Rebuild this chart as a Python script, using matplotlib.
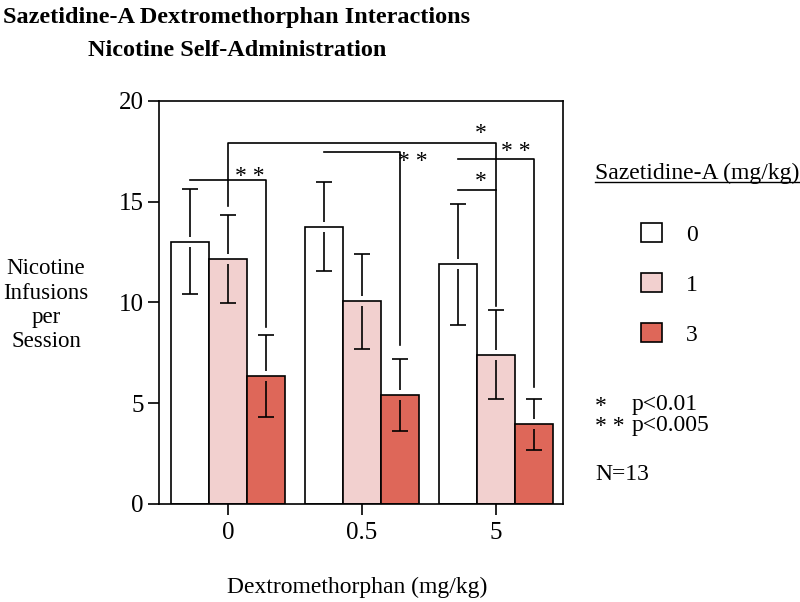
import numpy as np
import matplotlib
matplotlib.use("Agg")
import matplotlib.pyplot as plt
from matplotlib.lines import Line2D

plt.rcParams['font.family'] = ['Liberation Serif', 'DejaVu Serif']

# Dextromethorphan doses on the x axis, Sazetidine-A doses as the bar series
dxm_doses = ['0', '0.5', '5']
saz_doses = ['0', '1', '3']

# mean nicotine infusions per session and SEM, one list per Sazetidine-A dose
means_saz0 = [13.0, 13.75, 11.9]
sem_saz0 = [2.6, 2.2, 3.0]
means_saz1 = [12.15, 10.05, 7.4]
sem_saz1 = [2.2, 2.35, 2.2]
means_saz3 = [6.35, 5.4, 3.95]
sem_saz3 = [2.05, 1.8, 1.25]

# significance brackets : start (group, bar), end (group, bar), height,
# bottom of the left drop, bottom of the right drop (None = no drop)
br_start = [(0, 0), (0, 1), (1, 0), (2, 0), (2, 0)]
br_end = [(0, 2), (2, 1), (1, 2), (2, 1), (2, 2)]
br_height = [16.05, 17.9, 17.45, 15.55, 17.1]
br_left_drop = [None, 14.8, None, None, None]
br_right_drop = [8.8, 9.8, 7.9, None, 5.8]

# star labels (x in group units, y in infusions)
star_text = ['* *', '* *', '*', '*', '* *']
star_x = [0.164, 1.377, 1.888, 1.888, 2.148]
star_y = [16.6, 17.31, 18.72, 16.32, 17.81]

means = [means_saz0, means_saz1, means_saz3]
sems = [sem_saz0, sem_saz1, sem_saz3]
colors = ['white', '#F2D0CF', '#DE6759']

fig = plt.figure(figsize=(8, 6.02), dpi=100)
ax = fig.add_axes([0.19875, 0.1628, 0.5046, 0.6699])

x = np.arange(len(dxm_doses))
w = 0.285
offsets = [-w, 0, w]
gap = 0.25

bars = []
for i in range(3):
    xi = x + offsets[i]
    b = ax.bar(xi, means[i], width=w, color=colors[i], edgecolor='black',
               linewidth=1.2, zorder=2)
    bars.append(b)
    # caps only from errorbar, then the stem in two pieces with a gap at the bar top
    eb = ax.errorbar(xi, means[i], yerr=sems[i], fmt='none', ecolor='black',
                     capsize=5.8, capthick=1.2, elinewidth=1.2, zorder=3)
    eb[2][0].set_visible(False)
    m = np.array(means[i])
    s = np.array(sems[i])
    ax.vlines(xi, m + gap, m + s, color='black', lw=1.2, zorder=3)
    ax.vlines(xi, m - s, m - gap, color='black', lw=1.2, zorder=3)

# brackets
for (g0, b0), (g1, b1), h, ld, rd in zip(br_start, br_end, br_height,
                                          br_left_drop, br_right_drop):
    x0 = x[g0] + offsets[b0]
    x1 = x[g1] + offsets[b1]
    xs = [x0, x1]
    ys = [h, h]
    if ld is not None:
        xs = [x0] + xs
        ys = [ld] + ys
    if rd is not None:
        xs = xs + [x1]
        ys = ys + [rd]
    ax.plot(xs, ys, color='black', lw=1.2, zorder=4, clip_on=False)

for t, sx, sy in zip(star_text, star_x, star_y):
    ax.text(sx, sy - 0.62, t, ha='center', va='baseline', fontsize=17, zorder=5)

ax.set_xlim(-0.515, 2.498)
ax.set_ylim(0, 20)
ax.set_yticks([0, 5, 10, 15, 20])
ax.set_xticks(x)
ax.set_xticklabels(dxm_doses)
for sp in ax.spines.values():
    sp.set_linewidth(1.2)
ax.tick_params(axis='both', direction='out', length=8, width=1.2, labelsize=18)
ax.tick_params(axis='y', pad=3)
ax.tick_params(axis='x', pad=5)

ax.set_ylabel('Nicotine\nInfusions\nper\nSession', rotation=0, fontsize=16.5,
              ha='center', va='center', linespacing=1.2)
ax.yaxis.set_label_coords(-0.28, 0.493)
ax.set_xlabel('Dextromethorphan (mg/kg)', fontsize=17, va='center')
ax.xaxis.set_label_coords(0.49, -0.206)

fig.text(237 / 800, 1 - 34 / 602,
         'Sazetidine-A Dextromethorphan Interactions\nNicotine Self-Administration',
         ha='center', va='center', fontsize=17.5, fontweight='bold', linespacing=1.78)

# legend
ax.legend([b for b in bars], saz_doses, loc='upper left',
          bbox_to_anchor=(641 / 800, 1 - 223.5 / 602), bbox_transform=fig.transFigure,
          frameon=False, fontsize=17, handlelength=0.9, handleheight=0.85,
          handletextpad=1.0, labelspacing=1.16, borderpad=0, borderaxespad=0)

leg_title = fig.text(595 / 800, 1 - 179.3 / 602, 'Sazetidine-A (mg/kg)',
                     ha='left', va='baseline', fontsize=17)
fig.canvas.draw()
bb = leg_title.get_window_extent()
fig.add_artist(Line2D([bb.x0 / 800, bb.x1 / 800], [1 - 182 / 602, 1 - 182 / 602],
                      color='black', lw=1.0, transform=fig.transFigure))

fig.text(595 / 800, 1 - 412 / 602, '*', ha='left', va='baseline', fontsize=17)
fig.text(631.7 / 800, 1 - 410 / 602, 'p<0.01', ha='left', va='baseline', fontsize=17)
fig.text(595 / 800, 1 - 432 / 602, '* *', ha='left', va='baseline', fontsize=17)
fig.text(631.7 / 800, 1 - 431 / 602, 'p<0.005', ha='left', va='baseline', fontsize=17)
fig.text(595 / 800, 1 - 480 / 602, 'N=13', ha='left', va='baseline', fontsize=17)

fig.savefig('out.png', dpi=100)
